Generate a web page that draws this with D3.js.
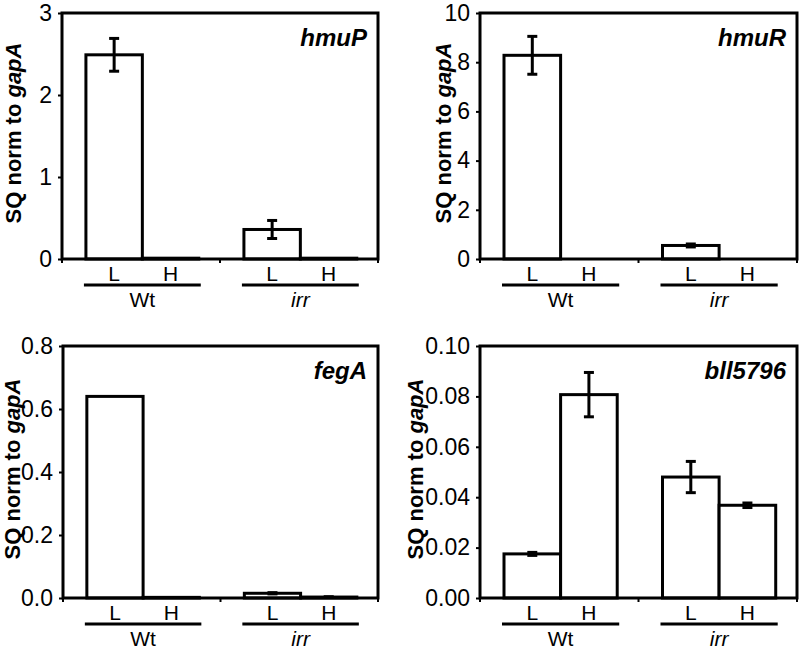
<!DOCTYPE html>
<html>
<head>
<meta charset="utf-8">
<script src="https://cdn.jsdelivr.net/npm/d3@7"></script>
<style>
  html, body { margin: 0; padding: 0; background: #fff; }
  svg { display: block; font-family: Arial, "Liberation Sans", sans-serif; }
</style>
</head>
<body>
<svg id="chart" width="800" height="649"></svg>
<script>
// ---- data ----
const strains = ["Wt", "irr"];
const conditions = ["L", "H"];
const genes = ["hmuP", "hmuR", "fegA", "bll5796"];

// values ordered: Wt-L, Wt-H, irr-L, irr-H
const hmuPValues = [2.49, 0.01, 0.36, 0.01];
const hmuPErrors = [0.20, 0, 0.11, 0];
const hmuRValues = [8.28, 0.0, 0.55, 0.0];
const hmuRErrors = [0.77, 0, 0.06, 0];
const fegAValues = [0.64, 0.002, 0.015, 0.003];
const fegAErrors = [0, 0, 0.002, 0.001];
const bll5796Values = [0.0175, 0.0807, 0.048, 0.0368];
const bll5796Errors = [0.0006, 0.0088, 0.0062, 0.0009];

const hmuPTicks = [0, 1, 2, 3];
const hmuRTicks = [0, 2, 4, 6, 8, 10];
const fegATicks = [0.0, 0.2, 0.4, 0.6, 0.8];
const bll5796Ticks = [0.00, 0.02, 0.04, 0.06, 0.08, 0.10];

const yTitle = "SQ norm to ";
const yTitleItalic = "gapA";

// ---- layout ----
const panels = [
  { gene: genes[0], values: hmuPValues, errors: hmuPErrors, ticks: hmuPTicks, fmt: "d",
    left: 62, right: 378, top: 13, bottom: 259, titleX: 21 },
  { gene: genes[1], values: hmuRValues, errors: hmuRErrors, ticks: hmuRTicks, fmt: "d",
    left: 480, right: 797, top: 13, bottom: 259, titleX: 451 },
  { gene: genes[2], values: fegAValues, errors: fegAErrors, ticks: fegATicks, fmt: ".1f",
    left: 63, right: 378, top: 346, bottom: 598, titleX: 20 },
  { gene: genes[3], values: bll5796Values, errors: bll5796Errors, ticks: bll5796Ticks, fmt: ".2f",
    left: 480, right: 797, top: 346, bottom: 598, titleX: 423 }
];

const svg = d3.select("#chart");
const SW = 3;

panels.forEach(p => {
  const g = svg.append("g");
  const domMax = p.ticks[p.ticks.length - 1];
  const y = d3.scaleLinear().domain([0, domMax]).range([p.bottom, p.top]);
  const xg = d3.scaleBand().domain(strains).range([p.left, p.right]).padding(0);
  const xc = d3.scaleBand().domain(conditions).range([0, xg.bandwidth()])
    .paddingInner(0).paddingOuter(0.4).align(0.53);

  const data = [];
  strains.forEach((s, si) => conditions.forEach((c, ci) => {
    const i = si * 2 + ci;
    data.push({ s, c, v: p.values[i], e: p.errors[i] });
  }));

  // y axis ticks + labels
  const yAxis = d3.axisLeft(y).tickValues(p.ticks).tickSize(4).tickPadding(6)
    .tickFormat(d3.format(p.fmt));
  const ya = g.append("g").attr("transform", `translate(${p.left},0)`).call(yAxis);
  ya.select(".domain").remove();
  ya.selectAll(".tick line").attr("stroke", "#000").attr("stroke-width", 2);
  ya.selectAll(".tick text").attr("font-size", 23).attr("fill", "#000")
    .attr("font-family", "Arial, 'Liberation Sans', sans-serif");

  // x axis small ticks (ends and group boundary)
  const xTicks = [p.left, xg("irr"), p.right];
  g.selectAll(".xt").data(xTicks).enter().append("line")
    .attr("x1", d => d).attr("x2", d => d)
    .attr("y1", p.bottom).attr("y2", p.bottom + 4)
    .attr("stroke", "#000").attr("stroke-width", 2);

  // bars
  g.selectAll(".bar").data(data).enter().append("rect")
    .attr("x", d => xg(d.s) + xc(d.c))
    .attr("y", d => y(d.v))
    .attr("width", xc.bandwidth())
    .attr("height", d => Math.max(0, p.bottom - y(d.v)))
    .attr("fill", "#fff").attr("stroke", "#000").attr("stroke-width", SW);

  // error bars
  const eb = data.filter(d => d.e > 0);
  const cx = d => xg(d.s) + xc(d.c) + xc.bandwidth() / 2;
  g.selectAll(".ev").data(eb).enter().append("line")
    .attr("x1", cx).attr("x2", cx)
    .attr("y1", d => y(d.v + d.e)).attr("y2", d => y(d.v - d.e))
    .attr("stroke", "#000").attr("stroke-width", SW);
  ["+", "-"].forEach(sign => {
    g.selectAll(".ec" + (sign === "+" ? "p" : "m")).data(eb).enter().append("line")
      .attr("x1", d => cx(d) - 5).attr("x2", d => cx(d) + 5)
      .attr("y1", d => y(sign === "+" ? d.v + d.e : d.v - d.e))
      .attr("y2", d => y(sign === "+" ? d.v + d.e : d.v - d.e))
      .attr("stroke", "#000").attr("stroke-width", SW);
  });

  // frame
  g.append("rect")
    .attr("x", p.left).attr("y", p.top)
    .attr("width", p.right - p.left).attr("height", p.bottom - p.top)
    .attr("fill", "none").attr("stroke", "#000").attr("stroke-width", SW);

  // condition labels
  g.selectAll(".cl").data(data).enter().append("text")
    .attr("x", cx).attr("y", p.bottom + 22)
    .attr("text-anchor", "middle").attr("font-size", 21)
    .text(d => d.c);

  // group underline and strain labels
  strains.forEach(s => {
    const x0 = xg(s) + xc("L") - 2;
    const x1 = xg(s) + xc("H") + xc.bandwidth() + 2;
    g.append("line").attr("x1", x0).attr("x2", x1)
      .attr("y1", p.bottom + 26).attr("y2", p.bottom + 26)
      .attr("stroke", "#000").attr("stroke-width", 3);
    g.append("text").attr("x", (x0 + x1) / 2).attr("y", p.bottom + 48)
      .attr("text-anchor", "middle").attr("font-size", 21)
      .attr("font-style", s === "irr" ? "italic" : "normal")
      .text(s);
  });

  // gene title
  g.append("text").attr("x", p.right - 11).attr("y", p.top + 33)
    .attr("text-anchor", "end").attr("font-size", 24)
    .attr("font-weight", "bold").attr("font-style", "italic")
    .text(p.gene);

  // y title
  const cy = (p.top + p.bottom) / 2 - 3;
  const t = g.append("text")
    .attr("transform", `translate(${p.titleX},${cy}) rotate(-90)`)
    .attr("text-anchor", "middle").attr("font-size", 22).attr("font-weight", "bold");
  t.append("tspan").text(yTitle);
  t.append("tspan").attr("font-style", "italic").text(yTitleItalic);
});
</script>
</body>
</html>
